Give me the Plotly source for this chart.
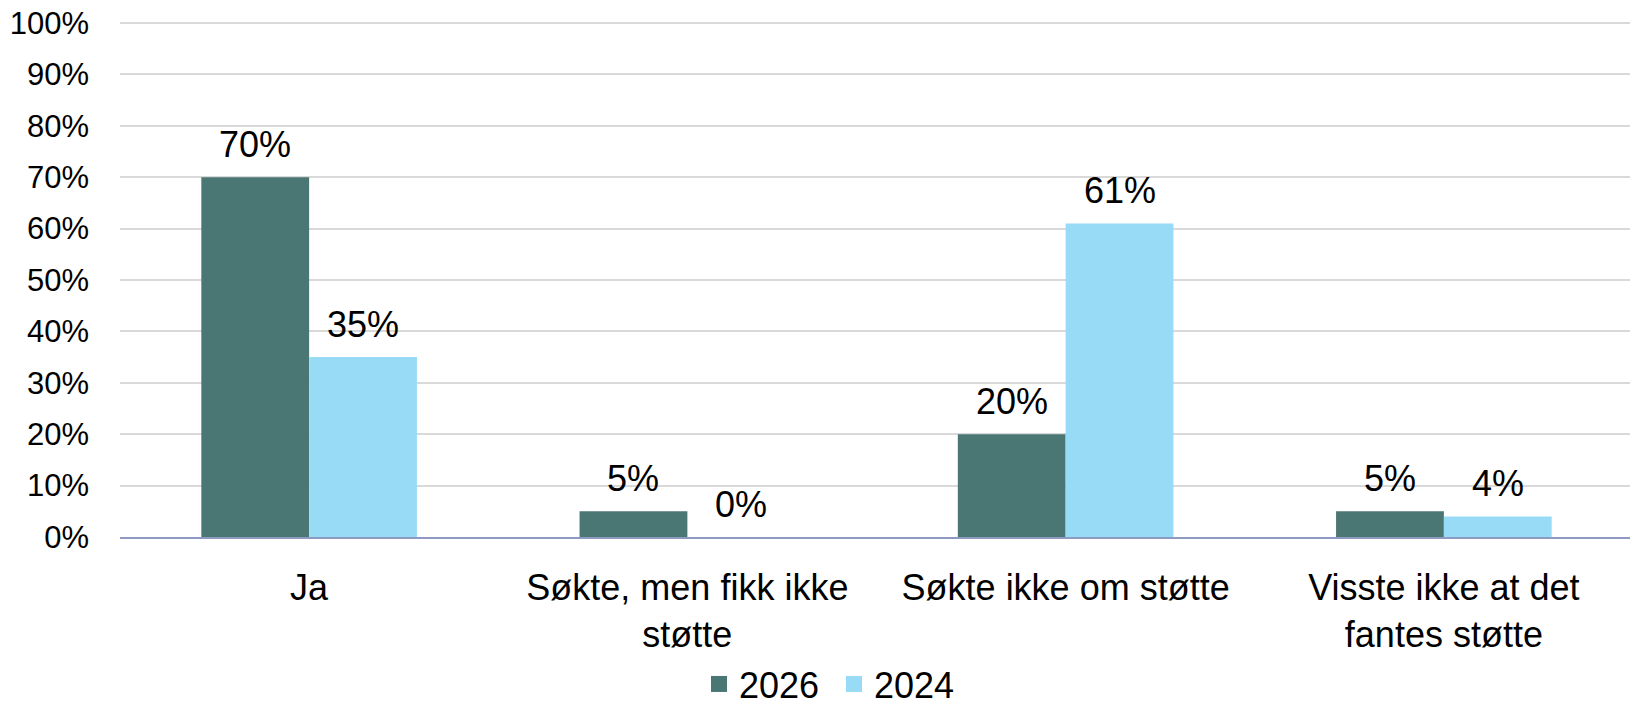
import plotly.graph_objects as go

categories = ["Ja", "Søkte, men fikk ikke<br>støtte", "Søkte ikke om støtte",
              "Visste ikke at det<br>fantes støtte"]
series_names = ["2026", "2024"]
values_2026 = [70, 5, 20, 5]
values_2024 = [35, 0, 61, 4]
colors = ["#4A7673", "#97DBF7"]
y_ticks = [0, 10, 20, 30, 40, 50, 60, 70, 80, 90, 100]
y_tick_labels = [f"{v}%" for v in y_ticks]

FONT = "Liberation Sans, Arial, sans-serif"

fig = go.Figure()
for name, vals, col in zip(series_names, [values_2026, values_2024], colors):
    fig.add_trace(go.Bar(x=categories, y=vals, name=name, marker_color=col,
                         marker_line_width=0, showlegend=False))
    # legend-only entry with a larger square symbol
    fig.add_trace(go.Scatter(x=[None], y=[None], mode="markers", name=name,
                             marker=dict(symbol="square", size=16, color=col)))

# data labels above bars
annotations = []
for shift, vals in zip([-54, 54], [values_2026, values_2024]):
    for cat, v in zip(categories, vals):
        annotations.append(dict(
            x=cat, y=v, xref="x", yref="y", text=f"{v}%", showarrow=False,
            xshift=shift, yshift=10, yanchor="bottom",
            font=dict(size=36, color="#000000", family=FONT),
        ))

# page body has an 8px margin, so the figure is a bit smaller than the window
fig.update_layout(
    width=1630, height=699,
    margin=dict(l=112, r=5, t=13, b=170, autoexpand=False),
    paper_bgcolor="white", plot_bgcolor="white",
    barmode="group", bargap=0.43, bargroupgap=0,
    font=dict(family=FONT, color="#000000"),
    annotations=annotations,
    showlegend=True,
    legend=dict(
        orientation="h", x=0.3827, xanchor="left", y=-0.285, yanchor="middle",
        font=dict(size=36, family=FONT), itemwidth=30, entrywidth=90,
        tracegroupgap=0,
    ),
    xaxis=dict(
        showgrid=False, showline=True, linecolor="#8E9AC2", linewidth=2,
        ticks="", tickfont=dict(size=36), ticklabelstandoff=18,
        automargin=False,
    ),
    yaxis=dict(
        range=[0, 100.4], tickvals=y_ticks, ticktext=y_tick_labels,
        showgrid=True, gridcolor="#D9D9D9", gridwidth=2,
        zeroline=False, showline=False, ticks="",
        tickfont=dict(size=31), ticklabelstandoff=30, automargin=False,
        ticklabeloverflow="allow",
    ),
)

fig.write_html("out.html")
